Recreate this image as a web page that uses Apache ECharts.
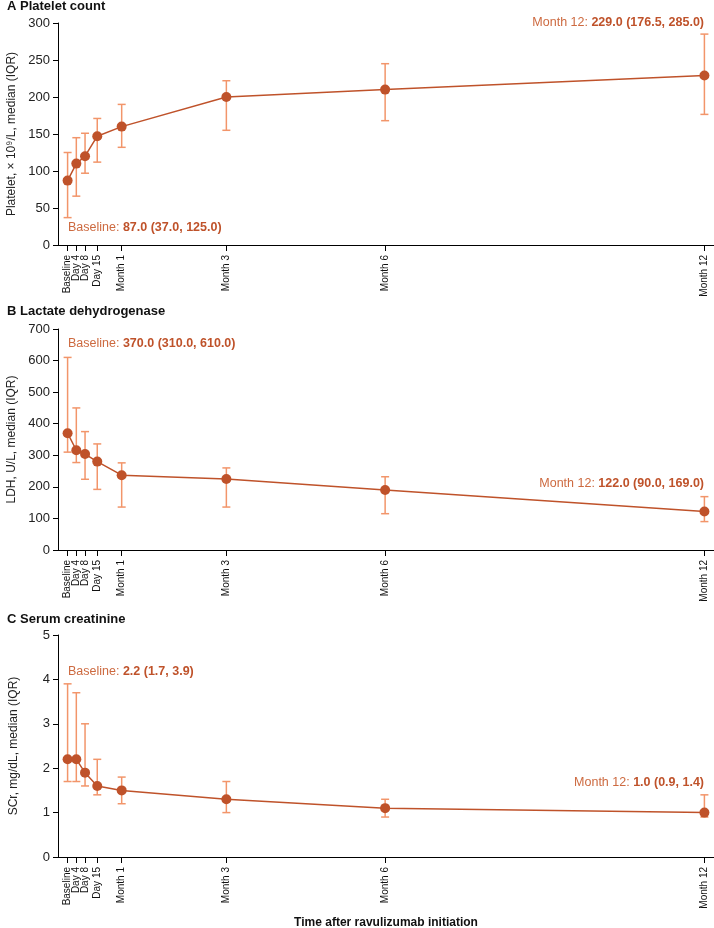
<!DOCTYPE html>
<html>
<head>
<meta charset="utf-8">
<script src="https://cdn.jsdelivr.net/npm/echarts@6/dist/echarts.min.js"></script>
<style>
html, body { margin: 0; padding: 0; background: #fff; }
#chart { width: 714px; height: 928px; }
</style>
</head>
<body>
<div id="chart"></div>
<script>
// time points (days after initiation, as placed on the axis)
const timeLabels = ['Baseline', 'Day 4', 'Day 8', 'Day 15', 'Month 1', 'Month 3', 'Month 6', 'Month 12']
const timeDays = [0, 5, 10, 17, 31, 91, 182, 365]

// A platelet count
const plateletMedian = [87, 110, 120, 147, 160, 200, 210, 229]
const plateletQ1 = [37, 66, 97, 112, 132, 155, 168, 176.5]
const plateletQ3 = [125, 145, 151, 171, 190, 222, 245, 285]

// B LDH
const ldhMedian = [370, 316, 304, 280, 237, 225, 190, 122]
const ldhQ1 = [310, 277, 224, 192, 136, 136, 115, 90]
const ldhQ3 = [610, 450, 375, 336, 276, 260, 232, 169]

// C serum creatinine
const scrMedian = [2.2, 2.2, 1.9, 1.6, 1.5, 1.3, 1.1, 1.0]
const scrQ1 = [1.7, 1.7, 1.6, 1.4, 1.2, 1.0, 0.9, 0.9]
const scrQ3 = [3.9, 3.7, 3.0, 2.2, 1.8, 1.7, 1.3, 1.4]

const lineColor = '#bf522a'
const barColor = '#f2956a'
const textColor = '#cd6a40'
const font = '"Liberation Sans", Arial, sans-serif'

const chart = echarts.init(document.getElementById('chart'))

const panels = [
    { title: 'A Platelet count', titleTop: 0, top: 23, height: 222, max: 300, interval: 50,
      name: 'Platelet, × 10⁹/L, median (IQR)', med: plateletMedian, q1: plateletQ1, q3: plateletQ3,
      baseY: 228, lastY: 23 },
    { title: 'B Lactate dehydrogenase', titleTop: 305, top: 329, height: 221, max: 700, interval: 100,
      name: 'LDH, U/L, median (IQR)', med: ldhMedian, q1: ldhQ1, q3: ldhQ3,
      baseY: 344, lastY: 484 },
    { title: 'C Serum creatinine', titleTop: 613, top: 635, height: 222, max: 5, interval: 1,
      name: 'SCr, mg/dL, median (IQR)', med: scrMedian, q1: scrQ1, q3: scrQ3,
      baseY: 672, lastY: 783 }
]

const fmt = v => v.toFixed(1)
const summary = (p, i) => fmt(p.med[i]) + ' (' + fmt(p.q1[i]) + ', ' + fmt(p.q3[i]) + ')'
const rich = {
    n: { fontSize: 12.5, fontFamily: font, fill: textColor },
    b: { fontSize: 12.5, fontFamily: font, fill: lineColor, fontWeight: 'bold' }
}

const grids = [], xAxes = [], yAxes = [], series = [], graphics = []

panels.forEach((p, i) => {
    grids.push({ left: 58, right: 0, top: p.top, height: p.height, containLabel: false, outerBoundsMode: 'none' })
    xAxes.push({
        gridIndex: i,
        type: 'value',
        min: -5.5,
        max: 370.5,
        splitLine: { show: false },
        axisLine: { onZero: false, lineStyle: { color: '#000', width: 1 } },
        axisTick: { show: true, length: 6, customValues: timeDays, lineStyle: { color: '#000' } },
        // labels are drawn by the custom series below (they sit too close for the axis to keep them all)
        axisLabel: { show: false },
        name: i === 2 ? 'Time after ravulizumab initiation' : '',
        nameLocation: 'middle',
        nameGap: 60,
        nameTextStyle: { fontSize: 12, fontWeight: 'bold', fontFamily: font, color: '#111' }
    })
    yAxes.push({
        gridIndex: i,
        type: 'value',
        min: 0,
        max: p.max,
        interval: p.interval,
        splitLine: { show: false },
        axisLine: { show: true, onZero: false, lineStyle: { color: '#000', width: 1 } },
        axisTick: { show: true, length: 5, lineStyle: { color: '#000' } },
        axisLabel: { fontSize: 13, fontFamily: font, color: '#222', margin: 8, showMinLabel: true, showMaxLabel: true },
        name: p.name,
        nameLocation: 'middle',
        nameGap: 38,
        nameTextStyle: { fontSize: 12, fontFamily: font, color: '#222' }
    })
    // error bars (IQR)
    series.push({
        type: 'custom',
        xAxisIndex: i,
        yAxisIndex: i,
        z: 1,
        data: timeDays.map((d, k) => [d, p.q1[k], p.q3[k]]),
        encode: { x: 0, y: [1, 2] },
        renderItem: function (params, api) {
            const lo = api.coord([api.value(0), api.value(1)])
            const hi = api.coord([api.value(0), api.value(2)])
            const w = 4
            const st = { stroke: barColor, lineWidth: 1.5 }
            return {
                type: 'group',
                children: [
                    { type: 'line', shape: { x1: lo[0], y1: lo[1], x2: hi[0], y2: hi[1] }, style: st },
                    { type: 'line', shape: { x1: lo[0] - w, y1: lo[1], x2: lo[0] + w, y2: lo[1] }, style: st },
                    { type: 'line', shape: { x1: hi[0] - w, y1: hi[1], x2: hi[0] + w, y2: hi[1] }, style: st }
                ]
            }
        }
    })
    // medians
    series.push({
        type: 'line',
        xAxisIndex: i,
        yAxisIndex: i,
        z: 2,
        data: timeDays.map((d, k) => [d, p.med[k]]),
        symbol: 'circle',
        symbolSize: 10,
        itemStyle: { color: lineColor },
        lineStyle: { color: lineColor, width: 1.5 }
    })
    // x tick labels, rotated
    series.push({
        type: 'custom',
        xAxisIndex: i,
        yAxisIndex: i,
        clip: false,
        silent: true,
        data: timeDays.map((d, k) => [d, 0, k]),
        encode: { x: 0, y: 1 },
        renderItem: function (params, api) {
            const pt = api.coord([api.value(0), 0])
            return {
                type: 'text',
                x: pt[0],
                y: pt[1] + 10,
                rotation: Math.PI / 2,
                style: {
                    text: timeLabels[api.value(2)],
                    align: 'right',
                    verticalAlign: 'middle',
                    fontSize: 10,
                    fontFamily: font,
                    fill: '#111'
                }
            }
        }
    })
    graphics.push({
        type: 'text', left: 7, top: p.titleTop,
        style: { text: p.title, fontSize: 13, fontWeight: 'bold', fontFamily: font, fill: '#111' }
    })
    graphics.push({
        type: 'text', x: 68, y: p.baseY,
        style: { text: '{n|Baseline: }{b|' + summary(p, 0) + '}', rich: rich, verticalAlign: 'middle' }
    })
    graphics.push({
        type: 'text', x: 704, y: p.lastY,
        style: { text: '{n|Month 12: }{b|' + summary(p, 7) + '}', rich: rich, align: 'right', verticalAlign: 'middle' }
    })
})

chart.setOption({
    animation: false,
    grid: grids,
    xAxis: xAxes,
    yAxis: yAxes,
    series: series,
    graphic: graphics
})
</script>
</body>
</html>
